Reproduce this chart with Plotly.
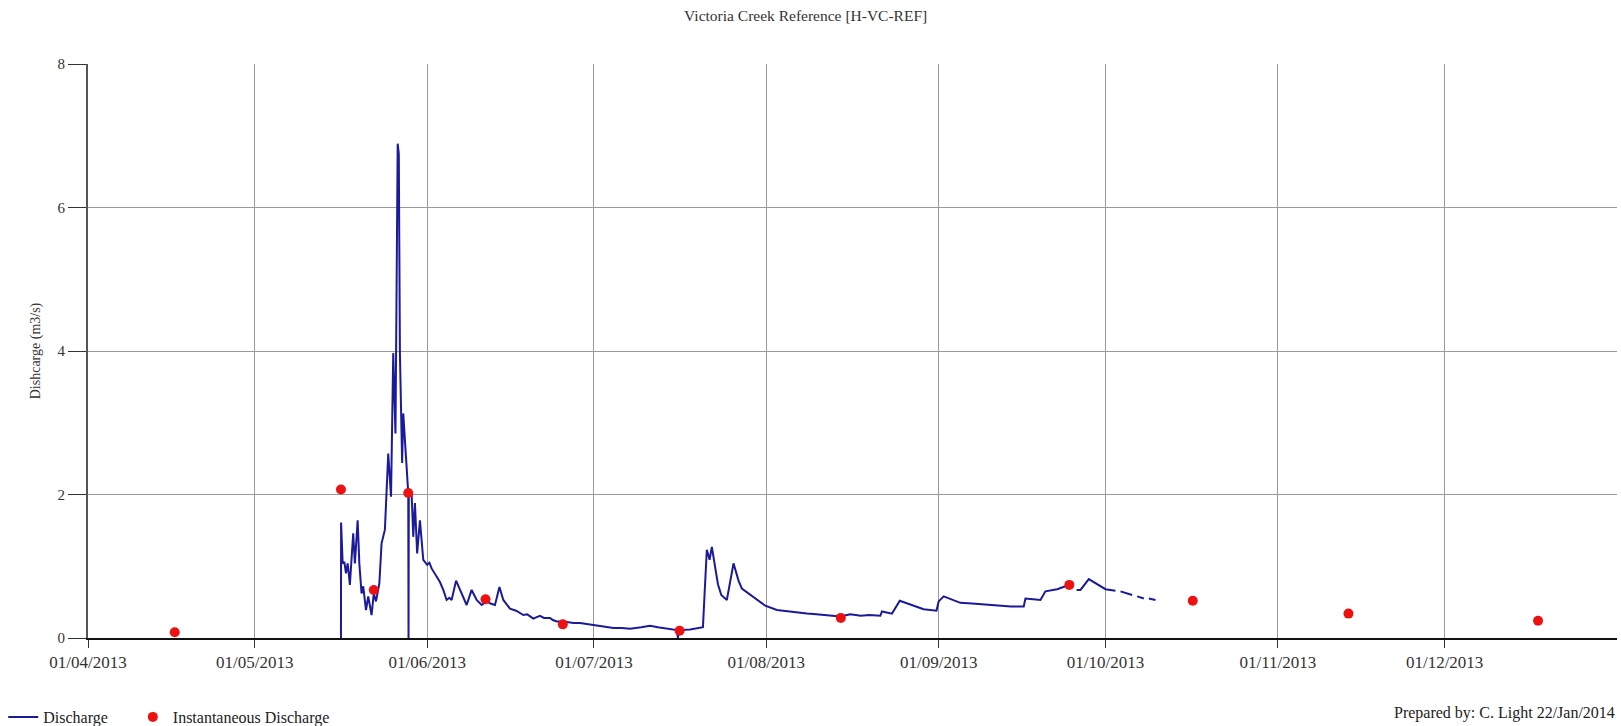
import datetime as dt
import plotly.graph_objects as go

# ---------------- data ----------------
BASE_DATE = dt.datetime(2013, 4, 1)

# Continuous discharge record: days since 01/04/2013 and value (m3/s); None = gap
discharge_day = [
    45.50, 45.52, 45.8, 46.1, 46.4, 46.7, 46.9, 47.1, 47.7, 48.0, 48.5, 48.8,
    49.2, 49.5, 50.0, 50.4, 51.0, 51.4, 51.8, 52.4, 52.8, 53.4, 54.0, 54.5,
    54.9, 55.3, 55.7, 55.9, 56.1, 56.5, 56.7, 57.1, 57.4, 57.6, 57.65, 57.7,
    58.2, 58.5, 58.8, 59.2, 59.7, 60.1, 60.3, 61.0, 61.4, 61.8, 62.2, 62.7,
    63.3, 63.9, 64.5, 65.0, 65.4, 66.2, 66.9, 67.5, 68.1, 69.0, 69.9, 70.8,
    71.7, 72.4, 73.2, 74.0, 74.7, 75.3, 75.9,
    77.0, 78.3, 79.0, 80.1, 80.7, 81.3, 82.0, 83.1, 83.6, 84.3, 85.5, 87.3,
    88.5, 90.9, 92.5, 94.5, 96.0, 97.5, 99.5, 101.1, 102.5, 104.1, 105.9,
    106.1, 106.3, 108.3, 110.6, 110.9, 111.3, 111.6,
    111.8, 112.2, 112.8, 113.3, 113.9, 114.9, 116.1, 117.0, 117.6, 118.8, 120.3,
    121.8, 123.9, 125.0, 126.3, 127.5, 129.3, 131.0, 132.3, 134.0, 135.3, 137.1,
    139.0, 140.5, 142.5, 142.8,
    144.6, 146.0, 148.0, 150.3, 152.6, 153.0, 153.9, 155.5, 156.9, 159.0, 161.1,
    162.5, 164.1, 166.0, 168.3, 168.6, 170.0, 171.3, 172.2, 174.3, 175.8, 177.0, 177.4,
    177.8, 178.5, 180.0, 181.0, 182.1, 183.0, 184.8, 185.2,
    185.7, 187.8, 188.2,
    188.7, 189.9, 190.3,
    190.8, 192.0,
]
discharge_val = [
    0.00, 1.61, 1.04, 1.06, 0.90, 1.04, 0.90, 0.74, 1.46, 1.04, 1.64, 1.04,
    0.62, 0.72, 0.39, 0.58, 0.32, 0.62, 0.51, 0.76, 1.32, 1.51, 2.57, 1.97,
    3.97, 2.85, 6.89, 6.75, 3.97, 2.44, 3.13, 2.57, 2.30, 2.02, 0.00, 2.02,
    2.02, 1.41, 1.88, 1.18, 1.64, 1.18, 1.09, 1.02, 1.05, 0.97, 0.92, 0.85,
    0.78, 0.67, 0.53, 0.56, 0.53, 0.80, 0.67, 0.55, 0.46, 0.67, 0.53, 0.46,
    0.51, 0.48, 0.46, 0.71, 0.53, 0.47, 0.41,
    0.38, 0.32, 0.33, 0.27, 0.29, 0.31, 0.28, 0.28, 0.25, 0.23, 0.23, 0.21,
    0.21, 0.18, 0.17, 0.14, 0.14, 0.13, 0.15, 0.17, 0.15, 0.13, 0.11,
    0.00, 0.11, 0.12, 0.15, 0.62, 1.23, 1.15,
    1.09, 1.27, 0.95, 0.75, 0.60, 0.53, 1.04, 0.80, 0.69, 0.62, 0.53,
    0.45, 0.39, 0.38, 0.37, 0.35, 0.34, 0.33, 0.32, 0.31, 0.30, 0.33,
    0.31, 0.32, 0.31, 0.37,
    0.34, 0.52, 0.46, 0.40, 0.38, 0.51, 0.58, 0.53, 0.49, 0.48, 0.47,
    0.46, 0.45, 0.44, 0.44, 0.55, 0.54, 0.53, 0.65, 0.68, 0.72, 0.74, None,
    0.67, 0.67, 0.82, 0.77, 0.72, 0.68, 0.66, None,
    0.65, 0.60, None,
    0.58, 0.55, None,
    0.55, 0.53,
]

# Instantaneous (spot) discharge measurements
spot_day = [15.6, 45.5, 51.4, 57.6, 71.5, 85.4, 106.4, 135.4, 176.5, 198.7, 226.7, 260.8]
spot_val = [0.08, 2.07, 0.67, 2.02, 0.54, 0.19, 0.10, 0.28, 0.74, 0.52, 0.34, 0.24]

# Month tick positions / labels
tick_dates = ["2013-04-01", "2013-05-01", "2013-06-01", "2013-07-01", "2013-08-01",
              "2013-09-01", "2013-10-01", "2013-11-01", "2013-12-01"]
tick_labels = ["01/04/2013", "01/05/2013", "01/06/2013", "01/07/2013", "01/08/2013",
               "01/09/2013", "01/10/2013", "01/11/2013", "01/12/2013"]

TITLE = "Victoria Creek Reference [H-VC-REF]"
Y_TITLE = "Dishcarge (m3/s)"
FOOTER = "Prepared by: C. Light 22/Jan/2014"
SERIES_NAMES = ["Discharge", "Instantaneous Discharge"]


def to_dates(days):
    return [BASE_DATE + dt.timedelta(days=d) for d in days]


FONT = "Liberation Serif, Times New Roman, serif"

fig = go.Figure()
fig.add_trace(go.Scatter(
    x=to_dates(discharge_day), y=discharge_val, mode="lines",
    name=SERIES_NAMES[0] + "\u00a0" * 5,
    line=dict(color="#1a1a9a", width=2), connectgaps=False,
))
fig.add_trace(go.Scatter(
    x=to_dates(spot_day), y=spot_val, mode="markers", name=SERIES_NAMES[1],
    marker=dict(color="#ee1111", size=10, line=dict(width=0)),
))

fig.update_layout(
    width=1621, height=726,
    margin=dict(l=88, r=4, t=64, b=88, autoexpand=False),
    paper_bgcolor="white", plot_bgcolor="white",
    font=dict(family=FONT, size=15, color="#333333"),
    title=dict(text=TITLE, x=0.497, xref="container", xanchor="center",
               y=1 - 16 / 726, yref="container", yanchor="middle",
               font=dict(family=FONT, size=15.5, color="#333333")),
    showlegend=True,
    legend=dict(orientation="h", xref="container", x=0.002, xanchor="left",
                yref="container", y=1 - 717 / 726, yanchor="middle",
                font=dict(family=FONT, size=16, color="#222222"),
                bgcolor="rgba(0,0,0,0)"),
    annotations=[dict(text=FOOTER, xref="paper", x=1.0, xanchor="right",
                      yref="paper", y=(638 - 713) / 574, yanchor="middle",
                      showarrow=False, font=dict(family=FONT, size=16, color="#222222"))],
)

fig.update_xaxes(
    type="date",
    range=[BASE_DATE, dt.datetime(2014, 1, 1)],
    tickvals=tick_dates, ticktext=tick_labels,
    showgrid=True, gridcolor="#9a9a9a", gridwidth=1,
    showline=True, linecolor="#111111", linewidth=2,
    ticks="outside", ticklen=8, tickcolor="#333333", tickwidth=1,
    zeroline=False, automargin=False,
    tickfont=dict(family=FONT, size=17, color="#333333"),
)
fig.update_yaxes(
    range=[0, 8], dtick=2, tick0=0,
    showgrid=True, gridcolor="#9a9a9a", gridwidth=1,
    showline=True, linecolor="#555555", linewidth=2,
    ticks="outside", ticklen=18, tickcolor="#333333", tickwidth=1,
    zeroline=False, automargin=False,
    title=dict(text=Y_TITLE, font=dict(family=FONT, size=14, color="#333333"), standoff=14),
    tickfont=dict(family=FONT, size=15, color="#333333"),
)

fig.write_html("out.html", config={"displayModeBar": False},
               post_script="document.body.style.margin='0';")
